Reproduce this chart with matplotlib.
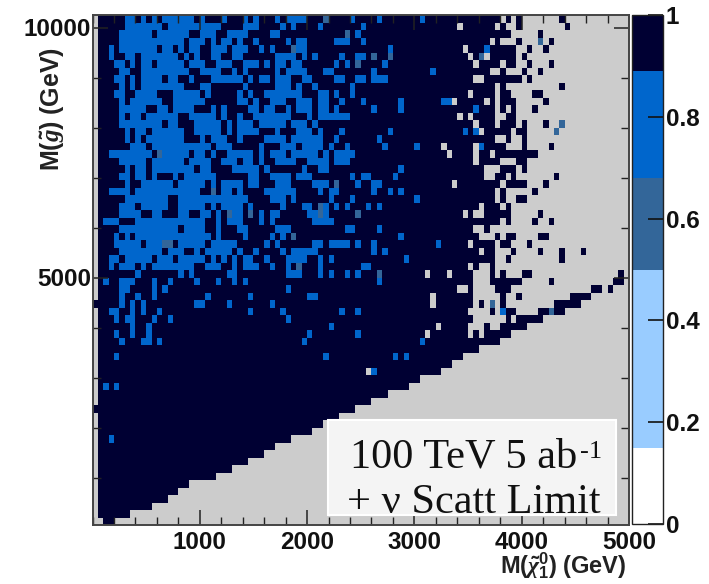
import numpy as np
import matplotlib
matplotlib.use("Agg")
import matplotlib.pyplot as plt
from matplotlib.colors import ListedColormap, BoundaryNorm
from matplotlib.cm import ScalarMappable
from matplotlib.patches import Rectangle
from matplotlib.ticker import MultipleLocator, FixedLocator

plt.rcParams['font.family'] = ['Liberation Sans', 'DejaVu Sans']
plt.rcParams['mathtext.fontset'] = 'custom'
plt.rcParams['mathtext.rm'] = 'Liberation Sans:bold'
plt.rcParams['mathtext.it'] = 'Liberation Serif:italic:bold'
plt.rcParams['mathtext.bf'] = 'Liberation Sans:bold'

# Bin layout (GeV)
x_start, x_stop, x_bin = 0, 5000, 50
y_start, y_stop, y_bin = 50, 10250, 150

# Efficiency levels and colours
levels = [0, 0.15, 0.5, 0.68, 0.89, 1.0]
level_colors = ['#ffffff', '#99ccff', '#336699', '#0066cc', '#000033']
blue_value, steel_value, dark_value = 0.8, 0.6, 0.95
colorbar_ticks = [0, 0.2, 0.4, 0.6, 0.8, 1]
colorbar_labels = ['0', '0.2', '0.4', '0.6', '0.8', '1']
x_tick_values = [1000, 2000, 3000, 4000, 5000]
y_tick_values = [5000, 10000]

# Cell spans per row, from the top row down ("a-b" = columns a to b)
blue_rows = [
 "6-7 9 11 13-18 20 24 28 30 34 36-39 48 53 61",
 "6-12 14-19 20-23 28-30 35 37 42 50",
 "5-10 12-17 20-22 25-28 33-34 49",
 "5-16 18-20 22 24-25 27 30 36 38-39 45-47 50",
 "3 5-11 13-14 16 18-19 22-24 26-27 28 31 33 38-39 55 73",
 "3 6-7 9-15 17 19 22-23 26-27 34-37 39 41 46 49-50",
 "4-5 7 9-10 12-16 18-20 23-25 28-30 32 34-35 37-38 45 47 54",
 "5-6 9-17 20-23 26 28 34 36-39 43-44 52 63",
 "4-5 7 9-12 14-15 18 22-27 29 31-32 34-36 39-40 45-46 49-50 52-54",
 "5 7 9-16 20-21 28 34-36 38 41 48",
 "4-5 8-11 15-19 21 27 29 32-38 42-43 45 48",
 "5 7-12 15-20 27-28 30 33-35 38-40 42-43 46 50 50 57 65-66",
 "5-9 12-13 15-18 22 24 29-30 32-33 36 38-40 42-43 45 52 57 71",
 "5 7-8 10-15 18-22 24 27 30-36 40 42-47",
 "5-12 14-15 19-23 25 27-29 31-35 37-39 41",
 "6 8-9 11-16 19-23 25 27-30 34 38-40 42 46 55 69 71",
 "6 8 10-16 20 22-24 27 32-35 37-42 45 53",
 "7-9 11-21 23-25 31 35-37 39-42 44 47 54 60 72",
 "3-10 13-17 19-20 22 25-29 31 33-35 37-41 43 45-47 48",
 "5-9 11-16 18-21 24-26 28-29 31 34-37 40-43 45-47",
 "6 8-9 11-18 20-21 26-30 32 39 42-43 57",
 "5-6 8-9 11 15 17-22 29-30 33-36 38-40 48 50-51 56",
 "6 9-14 16-20 22 24-27 29-30 34-36 41-43 49 52-53",
 "3-6 8-19 24-25 27 32-37 42 44-45 52 55 57",
 "6-13 16-28 33-35 37 44 48 60",
 "5-7 9-13 16-20 22 24-27 29 35 39-40 43 45 47 51 53",
 "5-8 11-12 16-17 20-21 23 26-27 31 33-34 40-41 43",
 "2-4 8-20 23 25-27 31 33 41-44",
 "5-15 17-20 23 27-28 34-36 47-48 53",
 "4 6 8-21 23 28 33 35 57",
 "4-8 10-12 16-20 22-26 32 34 41-42 44-47 49 52 64",
 "5-12 14-16 19 21-25 27 30 35 37-41 52 54",
 "3-4 6-10 12-14 16-20 22 24 26 28-29 32 36-39 42 44 58",
 "3 5-7 9 11-18 21-23 26 28-30 33 36 42 50-51",
 "8 16 18 25-26 36-38 42 44 47 49",
 "2 5-7 11 14 19 23 26 28 53",
 "5-6 11 13 36",
 "5 8 11 21 29 40-41",
 "5 7 9 19-20 25 33",
 "3-4 7 9 12 29 35 46 49 76",
 "4 6-7 11 14 36",
 "7 10 44",
 "4 7 10 40 49",
 "5 9-10 12 39 61",
 "",
 "4 43 56 58",
 "",
 "52",
 "",
 "2 4",
 "", "", "", "", "", "",
 "3",
 "", "", "", "", "", "", "", "", "", "", "",
]

steel_rows = {
 0: "43", 2: "47", 3: "83", 4: "37", 5: "52 55 72", 6: "49", 18: "12", 22: "45",
 23: "22", 25: "42", 26: "25 29 42 49", 29: "37", 30: "13-14", 33: "38",
 14: "87", 15: "86", 34: "53", 38: "74", 39: "85",
}

grey_rows = [
 "0 76 78 80-86 88-99",
 "0 68 75 77-78 80-87 89-99",
 "0 78-82 84-99",
 "0 74 76-78 80-82 84 86-99",
 "0 69 79-80 82-83 85-99",
 "0 70 73 79 81-99",
 "0 71 76 79-80 82-84 86-99",
 "0 74-75 77-79 81-82 84-99",
 "0 71-72 80 82-99",
 "0 75 77-86 88-99",
 "0 70 75 78-81 84-99",
 "0 67 73 75 79-83 85-99",
 "0 75 77 79-81 83-99",
 "0 68 70 75-76 79-99",
 "0 71 75 79 81-83 85-86 88-99",
 "0 72 78 81-85 87-99",
 "0 75-76 78-79 81-99",
 "0 65 71 77-79 81-84 86-99",
 "0 66 71 74 83-99",
 "0 71 76-78 81-99",
 "0 73-75 79 81-99",
 "0 73-74 77 79-85 87-99",
 "0 67 76 81-83 85-99",
 "0 75 77-81 83-99",
 "0 75 77-78 81-99",
 "0 72 76 78-99",
 "0 69 71-72 78-82 84-99",
 "0 76 78-81 83-84 86-99",
 "0 71-72 74-99",
 "0 72-74 76 79-82 85-99",
 "0 70 75 78-80 82-99",
 "0 72 75-77 79-82 84-86 88-90 92-99",
 "0 75-76 78-86 88-99",
 "0 70 72-73 75-99",
 "0 62 66 71-73 75 77-79 82-97 99",
 "0 71-73 80-84 86-96 99",
 "0 68-69 71-74 78-92 95 97-99",
 "0 63 71-75 77-78 80-88 93-99",
 "63 71 73 75 77-85 91-99",
 "0 70-73 75 79-82 88-99",
 "0 71-76 78 84-99",
 "0 64 70-72 74-75 81-99",
 "0 62 70 72 78-99",
 "0 76-99",
 "0 72-99",
 "0 69-99",
 "0 67-99",
 "0 51 65-99",
 "0 61-99",
 "0 59-99",
 "0 55-99",
 "0 52-99",
 "49-99",
 "0 46-99",
 "0 43-99",
 "0 41-99",
 "0 37-99",
 "0 34-99",
 "0 32-99",
 "0 29-99",
 "0 26-99",
 "0 23-99",
 "0 18-99",
 "0 16-99",
 "0 14-99",
 "0 11-99",
 "0 7-99",
 "0-1 4-99",
]


def spans(text):
    cols = []
    for part in text.split():
        lo, _, hi = part.partition('-')
        cols.extend(range(int(lo), int(hi or lo) + 1))
    return cols


x_edges = np.arange(x_start, x_stop + x_bin, x_bin)
y_edges = np.arange(y_start, y_stop + y_bin, y_bin)
grid = np.full((len(y_edges) - 1, len(x_edges) - 1), dark_value)
n_rows = grid.shape[0]
for r, text in enumerate(blue_rows):
    grid[n_rows - 1 - r, spans(text)] = blue_value
for r, text in steel_rows.items():
    grid[n_rows - 1 - r, spans(text)] = steel_value
for r, text in enumerate(grey_rows):
    grid[n_rows - 1 - r, spans(text)] = np.nan

W, H = 709, 584
fig = plt.figure(figsize=(W / 100, H / 100), dpi=100, facecolor='white')


def box(l, t, r, b):
    return [l / W, 1 - b / H, (r - l) / W, (b - t) / H]


frame = '#444444'
ax = fig.add_axes(box(92.5, 15, 629, 525))
ax.set_facecolor('#cccccc')
cmap = ListedColormap(level_colors)
norm = BoundaryNorm(levels, cmap.N)
ax.pcolormesh(x_edges, y_edges, np.ma.masked_invalid(grid), cmap=cmap, norm=norm,
              linewidth=0, antialiased=False)
ax.set_xlim(x_start, x_stop)
ax.set_ylim(y_start, y_stop)

ax.xaxis.set_major_locator(FixedLocator(x_tick_values))
ax.xaxis.set_minor_locator(MultipleLocator(200))
ax.yaxis.set_major_locator(FixedLocator(y_tick_values))
ax.yaxis.set_minor_locator(MultipleLocator(1000))
ax.tick_params(which='major', direction='in', top=True, right=True, length=11, width=1.1,
               color='#222222', labelsize=17.5, pad=4)
ax.tick_params(which='minor', direction='in', top=True, right=True, length=5.5, width=1.0,
               color='#222222')
ax.tick_params(axis='y', which='major', pad=1)
for lab in ax.get_xticklabels() + ax.get_yticklabels():
    lab.set_fontweight('bold')
    lab.set_color('#111111')
for s in ax.spines.values():
    s.set_color(frame)
    s.set_linewidth(1.4)

# Colour scale
cax = fig.add_axes(box(631.5, 15, 663, 524))
cb = fig.colorbar(ScalarMappable(norm=norm, cmap=cmap), cax=cax, spacing='proportional',
                  ticks=colorbar_ticks)
cb.ax.set_yticklabels(colorbar_labels, fontweight='bold', fontsize=17.5, color='#111111')
cb.ax.tick_params(direction='in', length=11, width=1.2, color='#111111', pad=2)
cb.ax.minorticks_off()
cb.outline.set_edgecolor('#222222')
cb.outline.set_linewidth(1.0)

# Axis titles
fig.text(563 / W, 1 - 566 / H, r'$\mathrm{M(}\tilde{\chi}_{1}^{0}\mathrm{)\ (GeV)}$',
         ha='center', va='center', fontsize=17, color='#222222')
fig.text(52 / W, 1 - 109 / H, r'$\mathrm{M(}\tilde{g}\mathrm{)\ (GeV)}$', rotation=90,
         ha='center', va='center', fontsize=18, color='#222222')

# Legend panel
fig.add_artist(Rectangle((328 / W, 1 - 515 / H), 288 / W, 95 / H, transform=fig.transFigure,
                         facecolor='#f4f4f4', edgecolor='white', linewidth=1.5))
serif = ['Liberation Serif', 'DejaVu Serif']
fig.text(350 / W, 1 - 467 / H, '100 TeV 5 ab', family=serif, fontsize=30.5, color='#111111',
         ha='left', va='baseline')
fig.text(580 / W, 1 - 458 / H, '-1', family=serif, fontsize=19, color='#111111',
         ha='left', va='baseline')
fig.text(347 / W, 1 - 513 / H, '+ \u03bd Scatt Limit', family=serif, fontsize=30.5, color='#111111',
         ha='left', va='baseline')

fig.savefig('out.png', dpi=100)
